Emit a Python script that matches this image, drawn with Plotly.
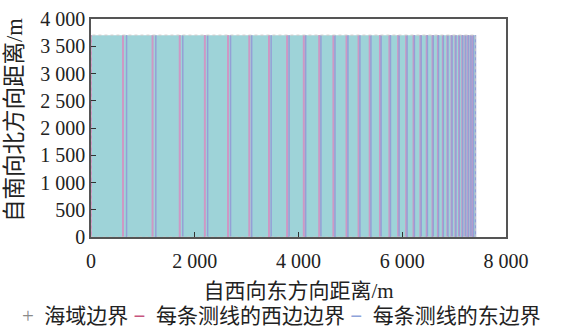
import plotly.graph_objects as go

# Survey area (m): east-west length and north-south width
sea_length = 7408
sea_width = 3704

# Coverage boundaries of each north-south survey line (m, measured from the west edge)
west_bounds = [0.0, 617.3, 1186.5, 1711.1, 2194.8, 2640.7, 3051.8, 3430.8, 3780.2,
               4102.3, 4399.3, 4673.0, 4925.5, 5158.1, 5372.6, 5570.3, 5752.7, 5920.7,
               6075.6, 6218.5, 6350.2, 6471.6, 6583.6, 6686.7, 6781.9, 6869.5, 6950.3,
               7024.9, 7093.6, 7156.9, 7215.3, 7269.2, 7318.8, 7364.6]
east_bounds = [685.9, 1249.6, 1769.5, 2248.5, 2690.3, 3097.5, 3472.9, 3819.0, 4138.2,
               4432.3, 4703.5, 4953.5, 5184.0, 5396.5, 5592.3, 5772.9, 5939.4, 6092.9,
               6234.4, 6364.8, 6485.1, 6596.0, 6698.2, 6792.3, 6879.3, 6959.4, 7033.1,
               7101.2, 7164.0, 7221.8, 7275.2, 7324.3, 7369.7, 7411.5]

x_tickvals = [0, 2000, 4000, 6000, 8000]
x_ticktext = ["0", "2 000", "4 000", "6 000", "8 000"]
y_tickvals = [0, 500, 1000, 1500, 2000, 2500, 3000, 3500, 4000]
y_ticktext = ["0", "500", "1 000", "1 500", "2 000", "2 500", "3 000", "3 500", "4 000"]

legend_names = ["海域边界", "每条测线的西边边界", "每条测线的东边界"]

FONT = "Liberation Serif, Noto Sans CJK SC, serif"
TEXT = "#222222"
FILL = "#9ed3d8"
PINK_LINE = "rgb(206,152,196)"
BLUE_LINE = "rgb(148,160,214)"
PINK_KEY = "#c8557e"
BLUE_KEY = "#8ea4da"
GRAY_KEY = "#8a8a8a"

sea_x = [0, sea_length, sea_length, 0, 0]
sea_y = [0, 0, sea_width, sea_width, 0]


def vertical_segments(xs_in, top):
    xs, ys = [], []
    for v in xs_in:
        xs += [v, v, None]
        ys += [0, top, None]
    return xs, ys


fig = go.Figure()

# sea area fill
fig.add_trace(go.Scatter(x=sea_x, y=sea_y, mode="lines", fill="toself",
                         fillcolor=FILL, line=dict(width=0),
                         showlegend=False, hoverinfo="skip"))

wx, wy = vertical_segments(west_bounds, sea_width)
ex, ey = vertical_segments(east_bounds, sea_width)

fig.add_trace(go.Scatter(x=wx, y=wy, mode="lines",
                         line=dict(color=PINK_LINE, width=2),
                         showlegend=False, hoverinfo="skip"))
fig.add_trace(go.Scatter(x=ex, y=ey, mode="lines",
                         line=dict(color=BLUE_LINE, width=1.5),
                         showlegend=False, hoverinfo="skip"))

# sea boundary outline
fig.add_trace(go.Scatter(x=sea_x, y=sea_y, mode="lines",
                         line=dict(color="#c8c8c8", width=1, dash="dot"),
                         showlegend=False, hoverinfo="skip"))

axis_common = dict(showgrid=False, zeroline=False, showline=True, mirror=True,
                   linecolor="#555555", linewidth=1.5, ticks="inside", ticklen=5,
                   tickwidth=1.2, tickcolor="#333333", automargin=False,
                   tickfont=dict(family=FONT, size=20, color=TEXT))

fig.update_xaxes(range=[0, 8000], tickvals=x_tickvals, ticktext=x_ticktext,
                 ticklabelstandoff=5,
                 title=dict(text="自西向东方向距离/m",
                            font=dict(family=FONT, size=21, color=TEXT),
                            standoff=13),
                 **axis_common)
fig.update_yaxes(range=[0, 4000], tickvals=y_tickvals, ticktext=y_ticktext,
                 **axis_common)

# vertical y-axis title at the left edge
fig.add_annotation(text="自南向北方向距离/m", xref="paper", yref="paper",
                   x=-91 / 415 + 14 / 415, y=0.5 + 8 / 218, textangle=-90,
                   xanchor="center", yanchor="middle", showarrow=False,
                   font=dict(family=FONT, size=22.5, color=TEXT))

# legend row: coloured key glyphs followed by the series names
sp = "&nbsp;"
legend_text = (
    f"<span style='color:{GRAY_KEY}'>+</span>{sp * 2}{legend_names[0]}{sp}"
    f"<span style='color:{PINK_KEY}'><b>−</b></span>{sp * 2}{legend_names[1]}{sp}"
    f"<span style='color:{BLUE_KEY}'><b>−</b></span>{sp * 2}{legend_names[2]}"
)
fig.add_annotation(text=legend_text, xref="paper", yref="paper",
                   x=0.46, y=-0.362, xanchor="center", yanchor="middle",
                   showarrow=False, font=dict(family=FONT, size=21, color=TEXT))

fig.update_layout(
    width=568, height=331,
    margin=dict(l=91, r=62, t=19, b=94),
    paper_bgcolor="white", plot_bgcolor="white",
    font=dict(family=FONT, size=20, color=TEXT),
    showlegend=False,
)

fig.write_html("out.html")
